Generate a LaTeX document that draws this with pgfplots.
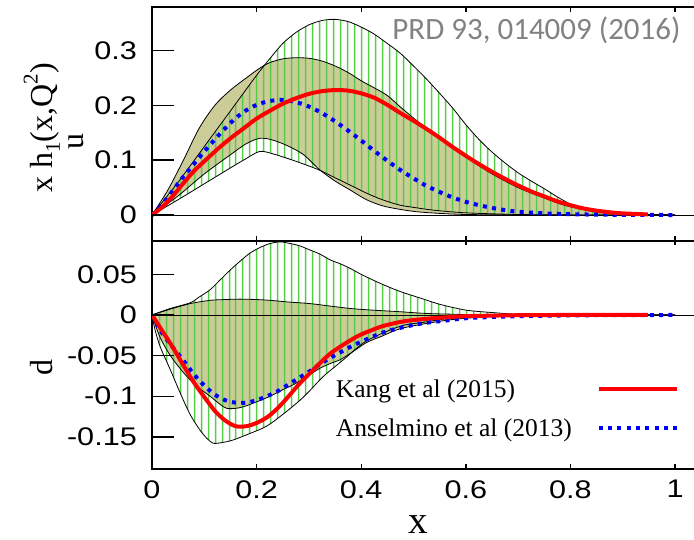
\documentclass[border=0pt]{standalone}
\usepackage{fontspec}
\setmainfont{Liberation Serif}
\newfontfamily\sansfont{Liberation Sans}
\newfontfamily\prdfont{Carlito}
\usepackage{graphicx}
\usepackage{pgfplots}
\pgfplotsset{compat=1.18}
\usepgfplotslibrary{fillbetween}
\usetikzlibrary{patterns.meta}
\definecolor{olivefill}{RGB}{204,204,153}
\definecolor{hatchgreen}{RGB}{85,205,70}
\definecolor{prdgray}{RGB}{130,130,130}
\newcommand{\T}[1]{\scalebox{1.2}[1]{#1}}
\tikzset{tk/.style={black, line width=1.4pt}}
\pgfplotsset{
  myaxis/.style={
    scale only axis, width=545pt, xmin=0, xmax=1.042,
    tick align=inside, ytick pos=left, xtick pos=both,
    axis line style={line width=1.6pt},
    xtick={0,0.2,0.4,0.6,0.8,1},
    xtick style={draw=none}, ytick style={draw=none},
    tick label style={font=\sansfont\fontsize{25.5}{28}\selectfont, inner sep=0pt},
    yticklabel style={xshift=-15pt},
    xticklabel style={yshift=-11pt},
  },
  bound/.style={black, line width=0.8pt, smooth, forget plot},
  kang/.style={red, line width=4pt, smooth},
  ansel/.style={blue, line width=4pt, dash pattern=on 4pt off 5.3pt, smooth},
  hatch/.style={pattern={Lines[angle=90,distance=6.9pt,line width=1.5pt]}, pattern color=hatchgreen, draw=none, forget plot},
}
\begin{document}
\begin{tikzpicture}
% ---------------- top panel: u ----------------
\begin{axis}[myaxis, at={(152pt,-7pt)}, anchor=north west, height=234pt,
  ymin=-0.0474, ymax=0.3796,
  ytick={0,0.1,0.2,0.3}, yticklabels={\T{0},\T{0.1},\T{0.2},\T{0.3}},
  xticklabels={,,,,,}]
\addplot[bound, name path=gu] coordinates {(0,0)(0.05,0.06)(0.1,0.125)(0.15,0.19)(0.2,0.255)(0.225,0.285)(0.25,0.313)(0.275,0.333)(0.3,0.347)(0.325,0.355)(0.35,0.357)(0.375,0.353)(0.4,0.343)(0.425,0.33)(0.45,0.313)(0.475,0.295)(0.5,0.272)(0.525,0.248)(0.55,0.222)(0.575,0.195)(0.6,0.165)(0.625,0.138)(0.65,0.115)(0.675,0.095)(0.7,0.077)(0.725,0.062)(0.75,0.048)(0.775,0.033)(0.8,0.02)(0.825,0.011)(0.85,0.005)(0.9,0.002)(1,0)};
\addplot[bound, name path=gl] coordinates {(0,0)(0.05,0.028)(0.1,0.057)(0.15,0.086)(0.18,0.103)(0.206,0.116)(0.23,0.112)(0.26,0.103)(0.29,0.093)(0.32,0.082)(0.35,0.068)(0.38,0.054)(0.41,0.04)(0.44,0.028)(0.474,0.018)(0.5,0.014)(0.537,0.009)(0.6,0.004)(0.7,0.001)(0.8,0.0002)(1,0)};
\addplot[bound, name path=ou] coordinates {(0,0)(0.03,0.045)(0.06,0.1)(0.09,0.158)(0.12,0.2)(0.15,0.228)(0.18,0.25)(0.206,0.268)(0.225,0.278)(0.25,0.285)(0.275,0.287)(0.3,0.286)(0.325,0.281)(0.35,0.272)(0.375,0.26)(0.4,0.245)(0.425,0.232)(0.45,0.218)(0.475,0.197)(0.5,0.177)(0.525,0.158)(0.55,0.14)(0.575,0.122)(0.6,0.106)(0.625,0.09)(0.65,0.075)(0.675,0.062)(0.7,0.05)(0.725,0.04)(0.75,0.031)(0.775,0.022)(0.8,0.015)(0.85,0.006)(0.9,0.002)(1,0)};
\addplot[bound, name path=ol] coordinates {(0,0)(0.05,0.035)(0.1,0.075)(0.15,0.11)(0.18,0.13)(0.206,0.14)(0.23,0.137)(0.26,0.126)(0.29,0.11)(0.32,0.083)(0.35,0.062)(0.38,0.045)(0.41,0.028)(0.44,0.017)(0.47,0.011)(0.506,0.006)(0.55,0.003)(0.6,0.001)(0.7,0.0002)(1,0)};
\addplot[fill=olivefill, draw=none, forget plot] fill between[of=ou and ol];
\addplot[hatch] fill between[of=gu and gl];
\addplot[black, line width=0.8pt, forget plot] coordinates {(0,0)(1.05,0)};
\addplot[ansel, forget plot] coordinates {(0,0)(0.02,0.02)(0.04,0.045)(0.06,0.07)(0.08,0.093)(0.1,0.116)(0.125,0.143)(0.15,0.168)(0.175,0.188)(0.2,0.201)(0.225,0.208)(0.25,0.21)(0.275,0.206)(0.3,0.198)(0.325,0.186)(0.35,0.171)(0.375,0.154)(0.4,0.136)(0.425,0.117)(0.45,0.099)(0.475,0.082)(0.5,0.067)(0.525,0.053)(0.55,0.042)(0.575,0.032)(0.6,0.024)(0.625,0.018)(0.65,0.013)(0.675,0.009)(0.7,0.006)(0.75,0.003)(0.8,0.0015)(0.85,0.0007)(0.9,0.0003)(1,0)};
\addplot[kang, forget plot] coordinates {(0,0)(0.02,0.015)(0.04,0.035)(0.06,0.058)(0.08,0.08)(0.1,0.098)(0.125,0.12)(0.15,0.14)(0.175,0.158)(0.2,0.176)(0.225,0.19)(0.25,0.203)(0.275,0.213)(0.3,0.221)(0.325,0.226)(0.35,0.228)(0.375,0.227)(0.4,0.222)(0.425,0.214)(0.45,0.201)(0.475,0.186)(0.5,0.172)(0.525,0.157)(0.55,0.141)(0.575,0.124)(0.6,0.108)(0.625,0.093)(0.65,0.079)(0.675,0.066)(0.7,0.054)(0.725,0.043)(0.75,0.034)(0.775,0.025)(0.8,0.018)(0.825,0.012)(0.85,0.008)(0.875,0.005)(0.9,0.003)(0.925,0.002)(0.948,0.001)};
\end{axis}
% ---------------- bottom panel: d ----------------
\begin{axis}[myaxis, at={(152pt,-241pt)}, anchor=north west, height=228pt,
  ymin=-0.1897, ymax=0.0911,
  ytick={-0.15,-0.1,-0.05,0,0.05}, yticklabels={\T{-0.15},\T{-0.1},\T{-0.05},\T{0},\T{0.05}},
  xticklabels={\T{0},\T{0.2},\T{0.4},\T{0.6},\T{0.8},\T{1}},
  legend style={at={(0.3376,0.390)}, anchor=north west, draw=none, fill=none,
    inner sep=0pt, outer sep=0pt, row sep=19.8pt, column sep=25pt,
    font=\fontsize{25.5}{30}\selectfont, nodes={inner sep=0pt}},
  legend cell align=left, legend plot pos=right,
  legend image code/.code={\draw[#1] (0pt,0.5pt) -- (78pt,0.5pt);}]
\addplot[bound, name path=gu] coordinates {(0,0)(0.035,0.008)(0.073,0.015)(0.09,0.022)(0.111,0.031)(0.13,0.043)(0.149,0.055)(0.168,0.066)(0.187,0.076)(0.206,0.083)(0.226,0.088)(0.245,0.09)(0.264,0.088)(0.283,0.085)(0.302,0.08)(0.321,0.075)(0.34,0.068)(0.36,0.063)(0.38,0.057)(0.4,0.05)(0.436,0.039)(0.474,0.029)(0.512,0.021)(0.551,0.013)(0.6,0.006)(0.65,0.003)(0.7,0.001)(0.8,0.0002)(1,0)};
\addplot[bound, name path=gl] coordinates {(0,0)(0.005,-0.016)(0.015,-0.038)(0.034,-0.066)(0.06,-0.105)(0.075,-0.125)(0.092,-0.142)(0.105,-0.152)(0.117,-0.158)(0.135,-0.157)(0.155,-0.154)(0.187,-0.146)(0.219,-0.137)(0.251,-0.122)(0.283,-0.105)(0.302,-0.093)(0.327,-0.076)(0.353,-0.062)(0.37,-0.053)(0.41,-0.032)(0.474,-0.014)(0.52,-0.009)(0.57,-0.004)(0.62,-0.002)(0.7,-0.0005)(1,0)};
\addplot[bound, name path=ou] coordinates {(0,0)(0.034,0.007)(0.073,0.014)(0.111,0.018)(0.14,0.019)(0.168,0.0195)(0.2,0.019)(0.226,0.018)(0.26,0.016)(0.302,0.014)(0.34,0.011)(0.379,0.008)(0.42,0.006)(0.474,0.004)(0.52,0.002)(0.57,0.001)(0.65,0.0003)(1,0)};
\addplot[bound, name path=ol] coordinates {(0,0)(0.015,-0.027)(0.034,-0.049)(0.055,-0.067)(0.073,-0.08)(0.092,-0.091)(0.111,-0.1)(0.13,-0.11)(0.143,-0.115)(0.16,-0.115)(0.175,-0.113)(0.2,-0.107)(0.226,-0.1)(0.25,-0.092)(0.27,-0.086)(0.296,-0.076)(0.32,-0.066)(0.34,-0.06)(0.36,-0.055)(0.38,-0.047)(0.41,-0.034)(0.44,-0.026)(0.474,-0.017)(0.52,-0.011)(0.57,-0.006)(0.62,-0.003)(0.665,-0.0015)(0.75,-0.0005)(1,0)};
\addplot[fill=olivefill, draw=none, forget plot] fill between[of=ou and ol];
\addplot[hatch] fill between[of=gu and gl];
\addplot[black, line width=0.8pt, forget plot] coordinates {(0,0)(1.05,0)};
\addplot[ansel, forget plot] coordinates {(0,0)(0.015,-0.018)(0.035,-0.036)(0.06,-0.056)(0.08,-0.073)(0.1,-0.087)(0.12,-0.098)(0.14,-0.105)(0.16,-0.108)(0.18,-0.108)(0.2,-0.105)(0.22,-0.1)(0.24,-0.094)(0.26,-0.086)(0.28,-0.078)(0.3,-0.07)(0.32,-0.061)(0.34,-0.053)(0.36,-0.046)(0.38,-0.039)(0.4,-0.033)(0.44,-0.022)(0.48,-0.015)(0.52,-0.01)(0.56,-0.007)(0.6,-0.004)(0.65,-0.0025)(0.7,-0.0015)(0.8,-0.0005)(0.9,-0.0002)(1,0)};
\addplot[kang, forget plot] coordinates {(0,0)(0.02,-0.02)(0.04,-0.04)(0.06,-0.062)(0.08,-0.083)(0.1,-0.101)(0.12,-0.118)(0.14,-0.13)(0.16,-0.137)(0.18,-0.137)(0.2,-0.133)(0.22,-0.126)(0.24,-0.115)(0.26,-0.101)(0.28,-0.086)(0.3,-0.073)(0.32,-0.06)(0.34,-0.048)(0.36,-0.039)(0.38,-0.031)(0.4,-0.024)(0.44,-0.014)(0.48,-0.008)(0.52,-0.005)(0.56,-0.003)(0.6,-0.0015)(0.7,-0.0003)(0.8,0)(0.948,0)};
\addlegendimage{red, line width=4pt}
\addlegendentry{Kang et al (2015)}
\addlegendimage{blue, line width=4pt, dash pattern=on 4pt off 5.3pt}
\addlegendentry{Anselmino et al (2013)}
\end{axis}
% ---------------- tick marks (inward) ----------------
\draw[tk] (152pt,-215pt) -- (174pt,-215pt);
\draw[tk] (152pt,-160.2pt) -- (174pt,-160.2pt);
\draw[tk] (152pt,-105.4pt) -- (174pt,-105.4pt);
\draw[tk] (152pt,-50.6pt) -- (174pt,-50.6pt);
\draw[tk] (152pt,-274.4pt) -- (174pt,-274.4pt);
\draw[tk] (152pt,-315pt) -- (174pt,-315pt);
\draw[tk] (152pt,-355.6pt) -- (174pt,-355.6pt);
\draw[tk] (152pt,-396.2pt) -- (174pt,-396.2pt);
\draw[tk] (152pt,-436.8pt) -- (174pt,-436.8pt);
\draw[tk] (256.6pt,-7pt) -- (256.6pt,-12pt);
\draw[tk] (361.2pt,-7pt) -- (361.2pt,-12pt);
\draw[tk] (465.8pt,-7pt) -- (465.8pt,-12pt);
\draw[tk] (570.4pt,-7pt) -- (570.4pt,-12pt);
\draw[tk] (675pt,-7pt) -- (675pt,-12pt);
\draw[tk] (256.6pt,-236pt) -- (256.6pt,-245pt);
\draw[tk] (361.2pt,-236pt) -- (361.2pt,-245pt);
\draw[tk] (465.8pt,-236pt) -- (465.8pt,-245pt);
\draw[tk] (570.4pt,-236pt) -- (570.4pt,-245pt);
\draw[tk] (675pt,-236pt) -- (675pt,-245pt);
\draw[tk] (256.6pt,-469pt) -- (256.6pt,-464pt);
\draw[tk] (361.2pt,-469pt) -- (361.2pt,-464pt);
\draw[tk] (465.8pt,-469pt) -- (465.8pt,-464pt);
\draw[tk] (570.4pt,-469pt) -- (570.4pt,-464pt);
\draw[tk] (675pt,-469pt) -- (675pt,-464pt);
% ---------------- labels ----------------
\node[rotate=90, anchor=base, font=\fontsize{32}{36}\selectfont] at (52pt,-128pt)
  {x h\raisebox{-0.25em}{\fontsize{21}{21}\selectfont 1}(x,Q\raisebox{0.45em}{\fontsize{21}{21}\selectfont 2})};
\node[rotate=90, anchor=base, font=\fontsize{32}{36}\selectfont] at (83pt,-142pt) {u};
\node[rotate=90, anchor=base, font=\fontsize{32}{36}\selectfont] at (52pt,-367pt) {d};
\node[anchor=base, font=\fontsize{39}{44}\selectfont] at (418pt,-533pt) {x};
\node[anchor=base east, text=prdgray, font=\prdfont\fontsize{31}{36}\selectfont] at (684pt,-39.5pt) {PRD 93, 014009 (2016)};
\pgfresetboundingbox
\path[use as bounding box] (0,0) rectangle (694pt,-540pt);
\end{tikzpicture}
\end{document}
